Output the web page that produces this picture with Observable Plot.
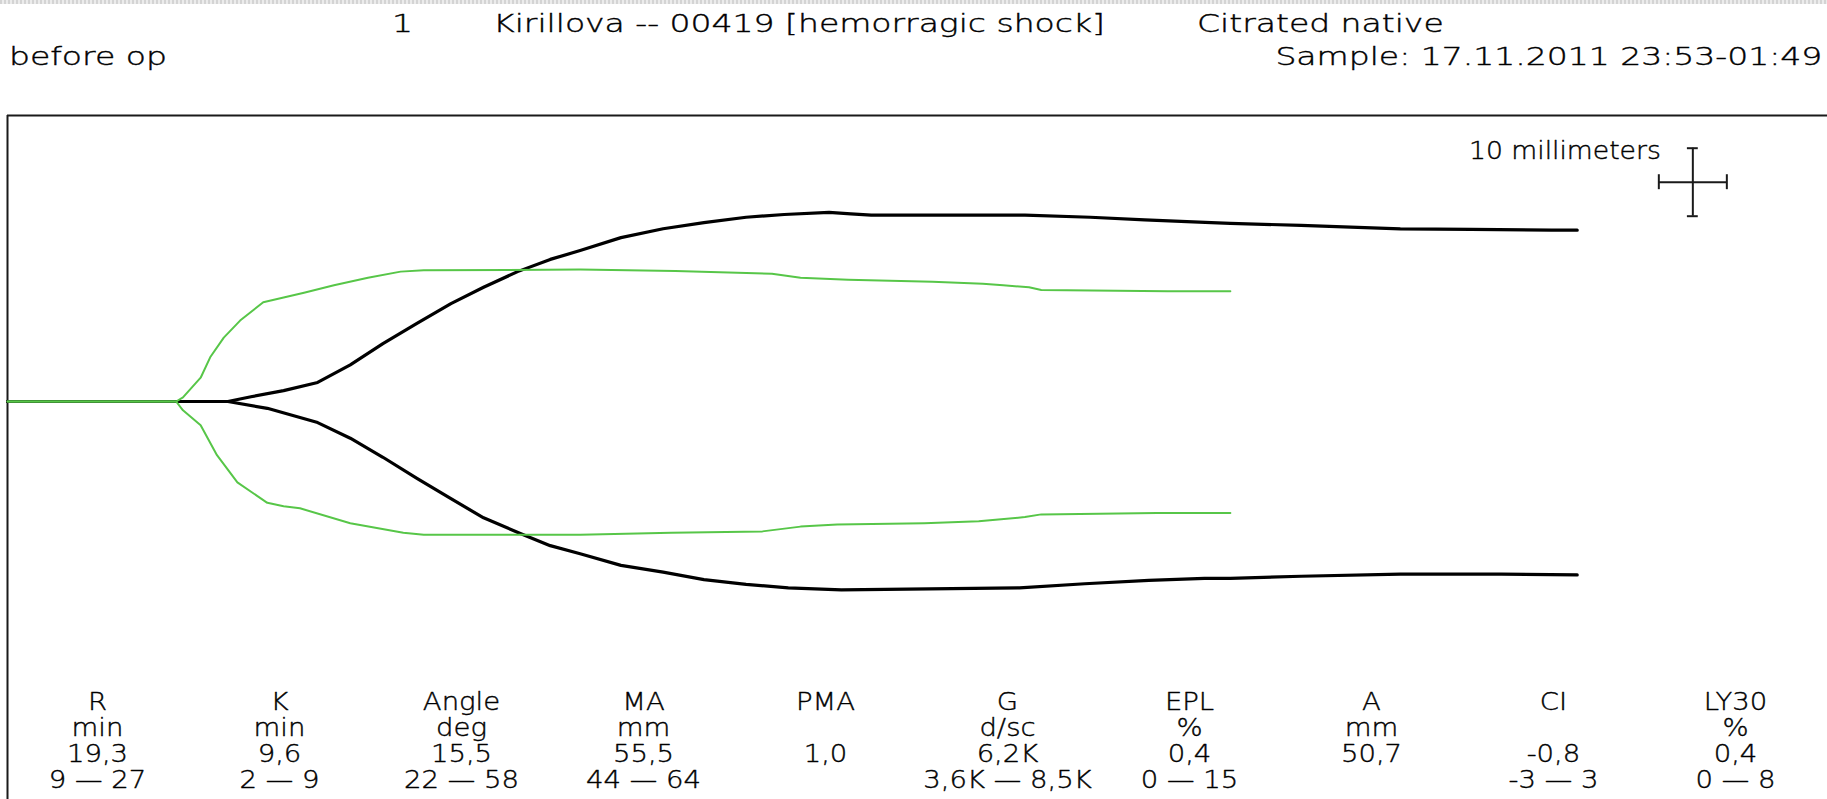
<!DOCTYPE html>
<html>
<head>
<meta charset="utf-8">
<script src="https://cdn.jsdelivr.net/npm/d3@7"></script>
<script src="https://cdn.jsdelivr.net/npm/@observablehq/plot@0.6"></script>
<style>
  html, body { margin: 0; padding: 0; background: #fff; }
  #page { position: relative; width: 1827px; height: 799px; overflow: hidden;
          font-family: "DejaVu Sans", sans-serif; font-weight: 300; color: #000; }
  .strip { position: absolute; left: 0; top: 0; width: 1827px; height: 4px;
           background: repeating-linear-gradient(90deg, #d4d4d4 0 2px, #ececec 2px 4px); }
  .hdr { position: absolute; font-size: 25px; line-height: 25px; white-space: nowrap;
         -webkit-text-stroke: 0.4px #000;
         transform: scaleX(1.32); transform-origin: 0 0; }
  .hdr.right { transform-origin: 100% 0; }
  #chart { position: absolute; left: 0; top: 113px; }
  #table { position: absolute; left: 0; top: 680px; }
</style>
</head>
<body>
<div id="page">
  <div class="strip"></div>
  <div class="hdr" id="hRun" style="left: 392px; top: 11px"></div>
  <div class="hdr" id="hPatient" style="left: 493px; top: 11px"></div>
  <div class="hdr" id="hType" style="left: 1197px; top: 11px"></div>
  <div class="hdr" id="hStage" style="left: 9px; top: 44px"></div>
  <div class="hdr right" id="hSample" style="right: 5px; top: 44px"></div>
  <div id="chart"></div>
  <div id="table"></div>
</div>
<script>
// Header texts
const runNumber = "1";
const patientLabel = "Kirillova -- 00419 [hemorragic shock]";
const sampleType = "Citrated native";
const stageLabel = "before op";
const sampleTime = "Sample: 17.11.2011 23:53-01:49";

// TEG traces: [time in minutes, amplitude in mm from the centre line]
const patientUpper = [[0,0],[16.2,0],[17.9,0.7],[20.3,1.6],[22.8,2.8],[25.2,5.4],[27.6,8.5],[30.1,11.5],[32.6,14.4],[35.0,16.8],[37.5,19.1],[39.9,20.9],[42.1,22.2],[45.1,24.1],[48.2,25.4],[51.2,26.3],[54.3,27.1],[57.1,27.5],[60.4,27.8],[62.0,27.6],[63.5,27.4],[74.8,27.4],[79.6,27.1],[83.6,26.7],[88.5,26.3],[89.9,26.2],[95.1,25.9],[102.4,25.4],[107.6,25.3],[113.5,25.2],[115.4,25.2]];
const patientLower = [[0,0],[16.2,0],[19.1,-1.0],[22.8,-3.1],[25.2,-5.4],[27.6,-8.2],[30.1,-11.3],[32.6,-14.3],[35.0,-17.1],[37.7,-19.4],[39.9,-21.2],[42.1,-22.4],[45.1,-24.1],[48.2,-25.1],[51.2,-26.2],[54.3,-26.9],[57.4,-27.4],[61.3,-27.7],[74.4,-27.4],[79.2,-26.8],[83.9,-26.3],[88.0,-26.0],[89.9,-26.0],[95.1,-25.7],[102.4,-25.4],[109.8,-25.4],[115.4,-25.5]];
const normalUpper = [[0,0],[12.4,0],[12.9,0.6],[14.2,3.5],[14.9,6.5],[15.9,9.4],[17.1,11.9],[18.8,14.6],[20.3,15.3],[21.8,16.0],[24.0,17.1],[26.5,18.2],[28.9,19.1],[30.6,19.3],[42.1,19.4],[49.1,19.2],[56.2,18.8],[58.3,18.2],[61.8,17.9],[68.0,17.6],[71.7,17.3],[73.2,17.1],[75.1,16.8],[76.0,16.4],[85.3,16.2],[89.9,16.2]];
const normalLower = [[0,0],[12.4,0],[12.9,-1.3],[14.2,-3.5],[15.4,-7.9],[16.9,-11.9],[19.1,-14.9],[20.3,-15.4],[21.5,-15.7],[25.2,-17.9],[29.1,-19.3],[30.6,-19.6],[42.1,-19.6],[48.8,-19.3],[55.5,-19.1],[58.3,-18.4],[61.0,-18.1],[67.4,-17.9],[71.4,-17.6],[74.8,-17.0],[76.0,-16.6],[84.5,-16.4],[89.9,-16.4]];

// 10 mm scale cross (2 mm of paper per minute)
const scaleBar = [{t: 123.9, a: 32.25, mm: 10, label: "10 millimeters"}];

// Parameter table
const paramNames  = ["R", "K", "Angle", "MA", "PMA", "G", "EPL", "A", "CI", "LY30"];
const paramUnits  = ["min", "min", "deg", "mm", "", "d/sc", "%", "mm", "", "%"];
const paramValues = ["19,3", "9,6", "15,5", "55,5", "1,0", "6,2K", "0,4", "50,7", "-0,8", "0,4"];
const paramRanges = ["9 \u2014 27", "2 \u2014 9", "22 \u2014 58", "44 \u2014 64", "", "3,6K \u2014 8,5K", "0 \u2014 15", "", "-3 \u2014 3", "0 \u2014 8"];

document.getElementById("hRun").textContent = runNumber;
document.getElementById("hPatient").textContent = patientLabel;
document.getElementById("hType").textContent = sampleType;
document.getElementById("hStage").textContent = stageLabel;
document.getElementById("hSample").textContent = sampleTime;

const FONT = "DejaVu Sans";
const INK = "#000";
const PATIENT = "#000";
const NORMAL = "#57c648";

// widen the glyphs of a text mark horizontally around their anchor
function stretchText(svg, tag, sx) {
  svg.querySelectorAll(`g[aria-description="${tag}"] text`).forEach((t) => {
    t.setAttribute("transform", (t.getAttribute("transform") || "") + ` scale(${sx},1)`);
  });
}

const T_MAX = 133.8;               // minutes across the frame
const A_TOP = 42.06, A_BOTTOM = -58.53; // mm above / below the centre line

const chart = Plot.plot({
  width: 1827,
  height: 686,
  marginTop: 2,
  marginBottom: 0,
  marginLeft: 7,
  marginRight: 0,
  x: {domain: [0, T_MAX], axis: null},
  y: {domain: [A_BOTTOM, A_TOP], axis: null},
  style: {background: "transparent", overflow: "visible"},
  marks: [
    Plot.ruleY([A_TOP], {stroke: "#1a1a1a", strokeWidth: 2}),
    Plot.ruleX([0], {stroke: "#1a1a1a", strokeWidth: 2}),
    Plot.line(patientUpper, {x: (d) => d[0], y: (d) => d[1], stroke: PATIENT, strokeWidth: 3.2, strokeLinejoin: "round"}),
    Plot.line(patientLower, {x: (d) => d[0], y: (d) => d[1], stroke: PATIENT, strokeWidth: 3.2, strokeLinejoin: "round"}),
    Plot.line(normalUpper, {x: (d) => d[0], y: (d) => d[1], stroke: NORMAL, strokeWidth: 2, strokeLinejoin: "round"}),
    Plot.line(normalLower, {x: (d) => d[0], y: (d) => d[1], stroke: NORMAL, strokeWidth: 2, strokeLinejoin: "round"}),
    // scale cross
    Plot.ruleX(scaleBar, {x: "t", y1: (d) => d.a - d.mm / 2, y2: (d) => d.a + d.mm / 2, stroke: "#1a1a1a", strokeWidth: 2}),
    Plot.ruleY(scaleBar, {y: "a", x1: (d) => d.t - d.mm / 4, x2: (d) => d.t + d.mm / 4, stroke: "#1a1a1a", strokeWidth: 2}),
    Plot.ruleY(scaleBar.flatMap((d) => [{...d, a: d.a - d.mm / 2}, {...d, a: d.a + d.mm / 2}]),
      {y: "a", x1: (d) => d.t - 0.4, x2: (d) => d.t + 0.4, stroke: "#1a1a1a", strokeWidth: 2}),
    Plot.ruleX(scaleBar.flatMap((d) => [{...d, t: d.t - d.mm / 4}, {...d, t: d.t + d.mm / 4}]),
      {x: "t", y1: (d) => d.a - 1.1, y2: (d) => d.a + 1.1, stroke: "#1a1a1a", strokeWidth: 2}),
    Plot.text(scaleBar, {x: (d) => d.t - d.mm / 4, y: (d) => d.a + d.mm / 2, text: "label",
      textAnchor: "end", lineAnchor: "middle", dx: 2, dy: 3, fontSize: 24, fontFamily: FONT,
      fontWeight: 300, fill: INK, stroke: INK, strokeWidth: 0.4, ariaDescription: "scale-label"})
  ]
});
stretchText(chart, "scale-label", 1.11);
document.getElementById("chart").append(chart);

const rows = paramNames.flatMap((name, i) => [
  {name, row: 0, text: name},
  {name, row: 1, text: paramUnits[i]},
  {name, row: 2, text: paramValues[i]},
  {name, row: 3, text: paramRanges[i]}
]).filter((d) => d.text !== "");

const table = Plot.plot({
  width: 1827,
  height: 119,
  marginTop: 21,
  marginBottom: 20,
  marginLeft: 6,
  marginRight: 1,
  x: {type: "band", domain: paramNames, padding: 0, axis: null},
  y: {type: "point", domain: [0, 1, 2, 3], padding: 0, axis: null},
  style: {background: "transparent", overflow: "visible"},
  marks: [
    Plot.text(rows, {x: "name", y: "row", text: "text", lineAnchor: "middle",
      fontSize: 25, fontFamily: FONT, fontWeight: 300, fill: INK, stroke: INK, strokeWidth: 0.4,
      ariaDescription: "param-text"})
  ]
});
stretchText(table, "param-text", 1.1);
document.getElementById("table").append(table);
</script>
</body>
</html>
